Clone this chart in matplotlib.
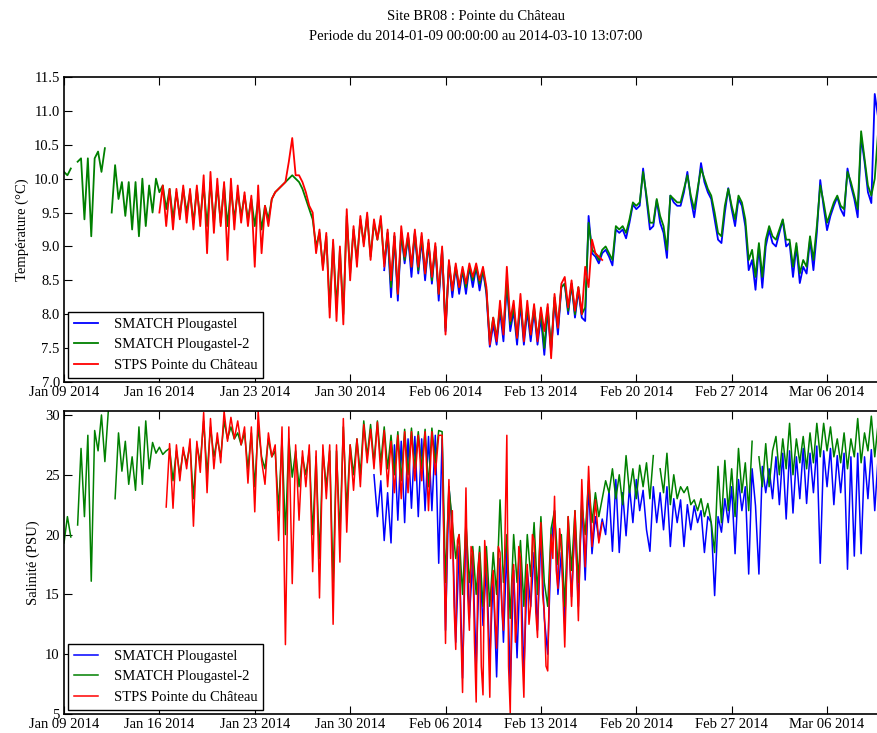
import numpy as np
import pandas as pd
import matplotlib
matplotlib.use("Agg")
import matplotlib.pyplot as plt
import matplotlib.dates as mdates

nan = np.nan

# values (days from 2014-01-09 00:00), 6-hourly unless noted
# ---------- temperature ----------
temp_p2_start = 0.0      # SMATCH Plougastel-2
temp_p2 = [
    10.10, 10.05, 10.15, nan,
    10.25, 10.30, 9.40, 10.30,
    9.15, 10.30, 10.40, 10.10,
    10.45, nan, 9.50, 10.20,
    9.70, 9.95, 9.45, 9.95,
    9.25, 9.95, 9.15, 10.00,
    9.30, 9.90, 9.50, 10.00,
    9.80, 9.90, 9.55, 9.85,
    9.40, 9.80, 9.45, 9.85,
    9.50, 9.80, 9.35, 9.85,
    9.40, 9.90, 9.30, 9.95,
    9.35, 9.90, 9.35, 9.90,
    9.30, 9.85, 9.40, 9.80,
    9.45, 9.75, 9.40, 9.70,
    9.30, 9.70, 9.25, 9.60,
    9.40, 9.70, 9.80, 9.85,
    9.90, 9.95, 10.00, 10.05,
    10.00, 9.95, 9.85, 9.70,
    9.55, 9.40, 9.00, 9.20,
    8.70, 9.15, 8.10, 9.05,
    8.10, 8.95, 8.00, 9.45,
    8.60, 9.25, 8.80, 9.40,
    9.05, 9.45, 8.85, 9.35,
    9.10, 9.40, 8.75, 9.20,
    8.40, 9.15, 8.30, 9.20,
    8.80, 9.15, 8.70, 9.20,
    8.65, 9.15, 8.60, 9.05,
    8.50, 9.00, 8.30, 8.95,
    7.80, 8.75, 8.35, 8.70,
    8.40, 8.65, 8.40, 8.70,
    8.50, 8.70, 8.45, 8.65,
    8.35, 7.60, 7.95, 7.65,
    8.10, 7.75, 8.50, 7.85,
    8.10, 7.65, 8.20, 7.65,
    8.10, 7.70, 8.10, 7.65,
    8.05, 7.50, 8.10, 7.50,
    8.25, 7.80, 8.40, 8.45,
    8.05, 8.45, 8.00, 8.40,
    8.00, 8.10, 9.35, 8.95,
    8.90, 8.80, 8.95, 9.00,
    8.90, 8.80, 9.30, 9.25,
    9.30, 9.20, 9.40, 9.65,
    9.60, 9.65, 10.10, 9.75,
    9.35, 9.35, 9.70, 9.45,
    9.30, 8.95, 9.75, 9.70,
    9.65, 9.65, 9.85, 10.05,
    9.75, 9.55, 9.85, 10.15,
    10.00, 9.85, 9.75, 9.50,
    9.20, 9.15, 9.60, 9.85,
    9.60, 9.40, 9.75, 9.65,
    9.40, 8.80, 8.95, 8.55,
    9.05, 8.55, 9.10, 9.30,
    9.15, 9.10, 9.25, 9.40,
    9.10, 9.10, 8.70, 9.05,
    8.60, 8.80, 8.70, 9.15,
    8.80, 9.30, 9.90, 9.65,
    9.35, 9.50, 9.65, 9.75,
    9.60, 9.55, 10.10, 9.95,
    9.75, 9.55, 10.70, 10.30,
    9.90, 9.75, 10.00, 10.70,
    10.80, 10.90, 11.00,
]

temp_stps_start = 7.0    # STPS Pointe du Chateau
temp_stps = [
    9.50, 9.90, 9.30, 9.85,
    9.25, 9.85, 9.40, 9.90,
    9.35, 9.85, 9.25, 9.90,
    9.30, 10.05, 8.90, 10.10,
    9.20, 10.00, 9.30, 9.95,
    8.80, 10.00, 9.25, 9.90,
    9.35, 9.80, 9.30, 9.75,
    8.70, 9.90, 8.90, 9.60,
    9.30, 9.70, 9.80, 9.85,
    9.90, 9.95, 10.25, 10.60,
    10.05, 10.05, 9.95, 9.80,
    9.60, 9.50, 8.90, 9.25,
    8.65, 9.20, 7.95, 9.10,
    7.90, 9.00, 7.85, 9.55,
    8.50, 9.30, 8.70, 9.45,
    9.00, 9.50, 8.80, 9.40,
    9.10, 9.45, 8.70, 9.25,
    8.50, 9.20, 8.30, 9.30,
    8.85, 9.20, 8.70, 9.25,
    8.70, 9.20, 8.60, 9.10,
    8.55, 9.05, 8.30, 9.00,
    7.70, 8.80, 8.35, 8.75,
    8.40, 8.70, 8.45, 8.75,
    8.55, 8.75, 8.50, 8.70,
    8.40, 7.55, 7.95, 7.60,
    8.20, 7.70, 8.70, 7.90,
    8.20, 7.65, 8.30, 7.60,
    8.20, 7.70, 8.15, 7.60,
    8.10, 7.75, 8.15, 7.35,
    8.30, 7.80, 8.45, 8.55,
    8.10, 8.50, 8.05, 8.40,
    8.00, 8.70, 8.40, 9.10,
    8.90, 8.85, 8.80,
]

temp_p1_start = 23.5     # SMATCH Plougastel
temp_p1 = [
    8.65, 9.20,
    8.25, 9.15, 8.20, 9.20,
    8.75, 9.15, 8.55, 9.20,
    8.60, 9.10, 8.50, 9.05,
    8.45, 9.00, 8.20, 8.95,
    7.75, 8.75, 8.25, 8.70,
    8.30, 8.65, 8.30, 8.70,
    8.40, 8.70, 8.35, 8.65,
    8.30, 7.52, 7.85, 7.55,
    8.05, 7.60, 8.45, 7.75,
    8.05, 7.55, 8.15, 7.55,
    8.05, 7.60, 8.05, 7.55,
    7.95, 7.40, 8.05, 7.45,
    8.20, 7.70, 8.40, 8.45,
    8.00, 8.45, 7.95, 8.35,
    7.95, 7.90, 9.45, 8.90,
    8.85, 8.75, 8.90, 8.95,
    8.85, 8.72, 9.25, 9.20,
    9.25, 9.12, 9.35, 9.62,
    9.55, 9.60, 10.15, 9.70,
    9.25, 9.30, 9.68, 9.35,
    9.20, 8.83, 9.75, 9.65,
    9.60, 9.60, 9.80, 10.10,
    9.70, 9.43, 9.80, 10.23,
    9.95, 9.80, 9.70, 9.40,
    9.10, 9.05, 9.50, 9.86,
    9.55, 9.30, 9.70, 9.60,
    9.30, 8.65, 8.80, 8.36,
    9.00, 8.39, 9.00, 9.24,
    9.05, 9.00, 9.20, 9.39,
    9.00, 9.05, 8.55, 9.00,
    8.46, 8.70, 8.60, 9.10,
    8.65, 9.20, 9.98, 9.58,
    9.24, 9.45, 9.60, 9.73,
    9.55, 9.45, 10.15, 9.90,
    9.70, 9.43, 10.62, 10.25,
    9.80, 9.64, 11.25, 10.90,
    10.95, 11.05, 11.10,
]

# ---------- salinity ----------
sal_p2_start = 0.0
sal_p2 = [
    19.3, 21.5, 19.8, nan,
    20.8, 27.2, 21.5, 28.3,
    16.1, 28.7, 27.0, 30.0,
    26.1, 30.3, nan, 23.0,
    28.5, 25.3, 27.8, 24.2,
    26.5, 23.7, 29.0, 24.2,
    29.5, 25.5, 27.7, 26.8,
    27.3, 26.7, 27.0, 27.2,
    24.5, 27.0, 25.0, 27.0,
    26.0, 27.5, 23.0, 27.5,
    26.0, 29.5, 25.0, 29.0,
    26.5, 28.0, 26.5, 29.5,
    28.0, 29.0, 28.0, 28.5,
    27.5, 28.5, 25.5, 28.5,
    24.0, 29.0, 26.5, 25.5,
    28.0, 26.5, 27.0, 22.0,
    28.0, 20.0, 28.0, 24.8,
    27.0, 24.0, 26.5, 25.0,
    27.0, 20.0, 26.5, 18.0,
    27.0, 24.0, 27.0, 16.0,
    27.0, 20.0, 29.0, 22.0,
    27.5, 25.0, 28.0, 25.0,
    29.5, 26.5, 29.2, 26.0,
    29.5, 26.0, 29.0, 25.5,
    28.3, 25.0, 28.6, 24.5,
    28.8, 25.0, 28.9, 25.5,
    28.6, 25.5, 28.8, 24.0,
    28.9, 26.0, 28.7, 28.6,
    16.0, 24.0, 21.0, 18.0,
    20.0, 15.0, 21.0, 16.0,
    19.0, 15.0, 19.0, 14.0,
    19.0, 14.0, 18.5, 15.0,
    22.9, 16.0, 20.0, 13.0,
    20.0, 16.0, 19.5, 14.0,
    20.0, 16.5, 21.0, 15.0,
    21.5, 16.0, 14.0, 20.5,
    22.0, 17.5, 20.0, 14.0,
    21.5, 17.0, 22.0, 16.0,
    22.5, 20.0, 24.5, 21.0,
    23.5, 21.5, 23.0, 24.5,
    23.5, 25.5, 23.0, 25.0,
    22.5, 26.6, 23.5, 25.5,
    23.0, 25.8, 24.0, 26.0,
    23.0, 26.6, nan, 25.5,
    23.5, 26.8, 22.5, 25.0,
    23.0, 24.0, 23.5, 24.0,
    22.5, 22.9, 22.0, 23.0,
    21.5, 22.6, 21.0, 18.5,
    25.7, 21.0, 26.2, 22.0,
    25.5, 21.5, 27.2, 23.5,
    26.0, 22.0, 27.8, nan,
    26.5, 24.0, 27.6, 24.0,
    27.0, 28.2, 25.0, 28.0,
    25.5, 29.3, 25.0, 28.0,
    26.0, 28.2, 25.5, 28.5,
    26.0, 29.3, 26.5, 29.3,
    27.0, 29.0, 26.5, 28.0,
    26.0, 28.5, 25.5, 28.0,
    26.5, 29.7, 26.0, 28.5,
    27.0, 29.9, 26.5, 29.3,
    27.5, 29.5, 28.0,
]

# STPS salinity in three pieces: 6-hourly, 3-hourly (freshwater event), 6-hourly
sal_stps_a_start = 7.5
sal_stps_a = [
    22.3, 27.6,
    22.2, 27.5, 24.5, 27.3,
    25.5, 28.0, 20.7, 27.8,
    25.2, 30.2, 23.5, 29.7,
    25.5, 28.5, 26.0, 30.3,
    27.8, 29.8, 28.0, 29.5,
    27.5, 29.0, 24.3, 29.0,
    21.9, 30.3, 26.2, 24.2,
    28.5, 26.5, 27.5, 19.5,
    29.0, 10.8, 29.0, 15.9,
    27.5, 21.2, 27.0, 24.0,
    27.5, 16.9, 27.0, 14.7,
    27.5, 23.0, 27.5, 12.5,
    27.5, 17.7, 29.7, 20.2,
    27.5, 23.7, 28.0, 24.0,
    29.2, 26.0, 28.8, 25.5,
    29.4, 25.0, 28.7, 24.0,
    27.8, 23.5, 28.3, 23.0,
    28.6, 23.5, 28.6, 24.5,
    28.3, 24.5, 28.6, 22.0,
    28.6, 25.0, 28.3, 28.3,
]
sal_stps_b_start = 28.0
sal_stps_b = [
    10.9, 20.0, 24.6, 18.0, 22.0, 14.0, 10.4, 19.5,
    20.0, 12.0, 6.8, 16.0, 23.9, 15.0, 12.0, 19.0,
    18.5, 11.0, 6.0, 17.0, 18.5, 9.0, 6.6, 19.5,
    17.3, 12.0, 6.4, 15.5, 17.0, 13.0, 10.5, 19.0,
    18.5, 14.0, 12.0, 20.5, 28.3, 9.0, 5.1, 16.0,
    17.5, 11.0, 13.0, 19.0, 18.0, 10.0, 6.4, 15.0,
    17.5, 12.5, 14.0, 20.0, 19.5, 13.5, 11.4, 18.0,
    21.0, 15.0, 13.5, 9.0, 8.6, 16.0, 20.0, 18.0,
    23.2, 17.0, 15.5, 20.5,
]
sal_stps_c_start = 36.5
sal_stps_c = [
    19.0, 10.6,
    21.5, 14.0, 22.0, 12.8,
    24.6, 17.3, 25.7, 19.0,
    22.9, 19.3, 21.0,
]

sal_p1_start = 22.75
sal_p1 = [
    25.0,
    21.5, 24.5, 19.5, 23.5,
    19.3, 27.5, 21.2, 27.8,
    21.0, 28.0, 22.2, 28.2,
    21.5, 28.0, 22.0, 28.2,
    22.0, 28.3, 17.6, 28.0,
    12.0, 24.0, 20.5, 11.0,
    19.0, 8.0, 21.0, 13.0,
    18.0, 9.0, 18.0, 12.4,
    17.5, 9.5, 16.5, 8.1,
    18.0, 11.0, 19.0, 7.0,
    17.0, 9.7, 18.0, 8.5,
    17.0, 14.0, 18.5, 12.0,
    20.0, 13.0, 10.0, 19.0,
    22.0, 15.0, 18.5, 12.5,
    20.5, 14.8, 21.0, 14.0,
    23.0, 16.2, 24.0, 18.4,
    21.5, 19.6, 21.3, 20.0,
    23.7, 18.6, 24.6, 18.5,
    23.5, 19.9, 24.0, 21.0,
    24.6, 22.0, 23.7, 20.4,
    18.6, 24.0, 21.0, 23.5,
    20.4, 24.0, 19.0, 23.0,
    21.0, 22.9, 19.0, 22.5,
    20.4, 22.4, 21.0, 22.0,
    18.5, 21.5, 21.0, 14.9,
    21.5, 20.2, 23.0, 21.0,
    24.0, 18.4, 24.6, 22.0,
    24.0, 16.7, 25.5, 22.4,
    16.7, 25.7, 23.5, 25.5,
    23.0, 26.5, 22.5, 26.8,
    21.3, 27.0, 21.8, 26.5,
    23.0, 27.2, 22.6, 26.8,
    23.5, 27.4, 17.6, 27.0,
    24.0, 27.2, 22.5, 26.6,
    23.5, 26.8, 17.1, 26.5,
    18.2, 26.8, 18.4, 26.5,
    23.0, 27.1, 22.0, 26.5,
    24.5, 27.2, 26.0,
]

labels = ['SMATCH Plougastel', 'SMATCH Plougastel-2', u'STPS Pointe du Château']
colors = ['b', 'g', 'r']

t0 = pd.Timestamp('2014-01-09 00:00:00')
t1 = pd.Timestamp('2014-03-10 13:07:00')


def times(start, vals, step_h=6):
    return t0 + pd.Timedelta(days=start) + pd.to_timedelta(np.arange(len(vals)) * step_h, unit='h')


# salinity STPS joined back into one line
sal_stps_t = times(sal_stps_a_start, sal_stps_a).append(
    times(sal_stps_b_start, sal_stps_b, 3)).append(times(sal_stps_c_start, sal_stps_c))
sal_stps = sal_stps_a + sal_stps_b + sal_stps_c

plt.rcParams['font.family'] = ['Liberation Serif', 'DejaVu Serif']
plt.rcParams['font.size'] = 10.5

fig = plt.figure(figsize=(8.77, 7.33), dpi=100)
W, H = 877.0, 733.0
ax1 = fig.add_axes([64 / W, 1 - 382 / H, 825 / W, 305 / H])
ax2 = fig.add_axes([64 / W, 1 - 714 / H, 825 / W, 303 / H])

ax1.plot(times(temp_p1_start, temp_p1), temp_p1, color=colors[0], lw=1.3, label=labels[0])
ax1.plot(times(temp_p2_start, temp_p2), temp_p2, color=colors[1], lw=1.3, label=labels[1])
ax1.plot(times(temp_stps_start, temp_stps), temp_stps, color=colors[2], lw=1.3, label=labels[2])

ax2.plot(times(sal_p1_start, sal_p1), sal_p1, color=colors[0], lw=1.1, label=labels[0])
ax2.plot(times(sal_p2_start, sal_p2), sal_p2, color=colors[1], lw=1.1, label=labels[1])
ax2.plot(sal_stps_t, sal_stps, color=colors[2], lw=1.1, label=labels[2])

ax1.set_ylim(7.0, 11.5)
ax1.set_yticks(np.arange(7.0, 11.51, 0.5))
ax1.yaxis.set_major_formatter(matplotlib.ticker.FormatStrFormatter('%.1f'))
ax2.set_ylim(5, 30.33)
ax2.set_yticks([5, 10, 15, 20, 25, 30])

ax1.set_ylabel(u'Température (°C)')
ax2.set_ylabel(u'Salinité (PSU)')

for ax in (ax1, ax2):
    ax.set_xlim(t0, t1)
    ax.xaxis.set_major_locator(mdates.WeekdayLocator(byweekday=mdates.TH))
    ax.xaxis.set_major_formatter(mdates.DateFormatter('%b %d %Y'))
    ax.tick_params(direction='in', length=6, width=0.8, top=True, right=True, pad=3)
    for sp in ax.spines.values():
        sp.set_linewidth(1.2)
    leg = ax.legend(loc='lower left', fancybox=False, edgecolor='black', framealpha=1,
                    handlelength=1.6, handletextpad=1.1, borderaxespad=0.3,
                    labelspacing=0.5, fontsize=10.5)
    leg.get_frame().set_linewidth(1.0)

fig.text(476 / W, 1 - 17 / H, u'Site BR08 : Pointe du Château', ha='center', va='center', fontsize=10.5)
fig.text(476 / W, 1 - 37 / H, 'Periode du 2014-01-09 00:00:00 au 2014-03-10 13:07:00',
         ha='center', va='center', fontsize=10.5)

fig.savefig('out.png', dpi=100)
